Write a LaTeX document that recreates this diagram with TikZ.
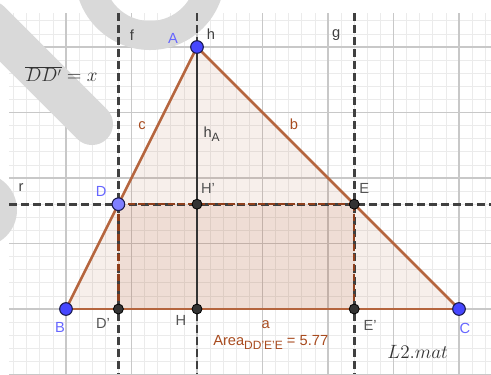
\documentclass[tikz,border=0pt]{standalone}
\usepackage{fontspec}
\setsansfont{Liberation Sans}
\usepackage{xcolor}
\usepackage{tikz}
\usetikzlibrary{positioning}
\definecolor{GridFine}{HTML}{EBEBEB}
\definecolor{GridMajor}{HTML}{C8C8C8}
\definecolor{WaterGray}{HTML}{D9D9D9}
\definecolor{AuxInk}{HTML}{404040}
\definecolor{GeoBrown}{HTML}{B5653E}
\definecolor{RectBrown}{HTML}{8E3F1C}
\definecolor{LabelBrown}{HTML}{A84B1F}
\definecolor{PtBlue}{HTML}{4646FF}
\definecolor{PtBlueLight}{HTML}{7F7FFF}
\definecolor{PtRim}{HTML}{1A1A4D}
\definecolor{PtDark}{HTML}{333333}
\definecolor{BlueText}{HTML}{6666FF}
\definecolor{GrayText}{HTML}{555555}
\tikzset{
  gridfine/.style={draw=GridFine,line width=0.5pt},
  gridmajor/.style={draw=GridMajor,line width=0.8pt},
  watermark/.style={fill=WaterGray},
  auxline/.style={draw=AuxInk,line width=2.2pt,dash pattern=on 6pt off 3pt},
  side/.style={draw=GeoBrown,line width=2pt},
  rectedge/.style={draw=RectBrown,line width=1.8pt,dash pattern=on 5pt off 2.5pt},
  altitude/.style={draw=PtDark,line width=1.1pt},
  freept/.style={circle,fill=PtBlue,draw=PtRim,line width=0.8pt,inner sep=0pt,minimum size=9.5pt},
  fixpt/.style={circle,fill=PtDark,draw=black,line width=0.6pt,inner sep=0pt,minimum size=7.5pt},
  lbl/.style={font=\sffamily\fontsize{11}{13}\selectfont,inner sep=0pt},
  bluelbl/.style={lbl,text=BlueText},
  graylbl/.style={lbl,text=GrayText},
  linelbl/.style={lbl,text=AuxInk},
  edgelbl/.style={lbl,text=LabelBrown}
}
\begin{document}
\begin{tikzpicture}[x=49.125pt,y=49.125pt]
  \useasboundingbox (-1.0076,-0.9924) rectangle (6.4885,4.7176);
  \begin{scope}
    \clip (-0.87,-0.9924) rectangle (6.4885,4.519);
    \draw[gridfine] (-1,-1) grid[step=0.2] (6.6,4.6);
    \draw[gridmajor] (-1,-1) grid[step=1] (6.6,4.6);
  \end{scope}
  \fill[watermark,even odd rule] (1.282,5.099) circle (1.145) (1.282,5.099) circle (0.702);
  \draw[draw=WaterGray,line width=31.5pt,line cap=round] (-1.16,4.382) -- (0.397,2.824);
  \fill[watermark] (-1.313,1.511) circle (0.565);
  \coordinate (B) at (0,0);
  \coordinate (C) at (6,0);
  \coordinate (A) at (2,4);
  \coordinate (D) at (0.8,1.6);
  \coordinate (E) at (4.4,1.6);
  \coordinate (Dp) at (0.8,0);
  \coordinate (Ep) at (4.4,0);
  \coordinate (H) at (2,0);
  \coordinate (Hp) at (2,1.6);
  \coordinate (f1) at (0.8,4.519);
  \coordinate (f2) at (0.8,-0.9924);
  \coordinate (h1) at (2,4.519);
  \coordinate (h2) at (2,-0.9924);
  \coordinate (g1) at (4.4,4.519);
  \coordinate (g2) at (4.4,-0.9924);
  \coordinate (r1) at (-0.87,1.6);
  \coordinate (r2) at (6.4885,1.6);
  \fill[GeoBrown,fill opacity=0.1] (A) -- (B) -- (C) -- cycle;
  \fill[GeoBrown,fill opacity=0.13] (D) -- (Dp) -- (Ep) -- (E) -- cycle;
  \draw[auxline] (f1) -- (f2);
  \draw[auxline] (h1) -- (h2);
  \draw[auxline] (g1) -- (g2);
  \draw[auxline] (r1) -- (r2);
  \draw[side] (B) -- node[edgelbl,pos=0.7,xshift=-11.8pt] (labc) {c} (A);
  \draw[side] (A) -- node[edgelbl,pos=0.3,xshift=13.8pt,yshift=1.2pt] (labb) {b} (C);
  \draw[side] (B) -- node[edgelbl,pos=0.508,yshift=-12pt] (laba) {a} (C);
  \draw[rectedge] (D) -- (Hp) -- (E);
  \draw[rectedge] (D) -- (Dp);
  \draw[rectedge] (E) -- (Ep);
  \draw[altitude] (A) -- node[linelbl,pos=0.3325,xshift=11pt] (labhA) {h\raisebox{-0.45ex}{\fontsize{9}{10}\selectfont A}} (H);
  \node[fixpt] (pDp) at (Dp) {};
  \node[fixpt] (pH) at (H) {};
  \node[fixpt] (pEp) at (Ep) {};
  \node[fixpt] (pHp) at (Hp) {};
  \node[fixpt] (pE) at (E) {};
  \node[freept] (pA) at (A) {};
  \node[freept] (pB) at (B) {};
  \node[freept] (pC) at (C) {};
  \node[freept,fill=PtBlueLight] (pD) at (D) {};
  \node[bluelbl] (labA) at ([shift={(-18pt,6.75pt)}]A) {A};
  \node[bluelbl] (labB) at ([shift={(-4.5pt,-13.5pt)}]B) {B};
  \node[bluelbl] (labC) at ([shift={(4.5pt,-14.25pt)}]C) {C};
  \node[bluelbl] (labD) at ([shift={(-13pt,9.75pt)}]D) {D};
  \node[graylbl] (labE) at ([shift={(7.5pt,12pt)}]E) {E};
  \node[graylbl] (labHp) at ([shift={(8.25pt,12pt)}]Hp) {H'};
  \node[graylbl] (labDp) at ([shift={(-11.5pt,-10.5pt)}]Dp) {D'};
  \node[graylbl] (labH) at ([shift={(-12pt,-8.25pt)}]H) {H};
  \node[graylbl] (labEp) at ([shift={(12pt,-12pt)}]Ep) {E'};
  \node[linelbl] (labf) at ([shift={(10.2pt,-16.5pt)}]f1) {f};
  \node[linelbl] (labh) at ([shift={(10.5pt,-15.75pt)}]h1) {h};
  \node[linelbl] (labg) at ([shift={(-13.5pt,-16.5pt)}]g1) {g};
  \node[linelbl] (labr) at ([shift={(9pt,12.75pt)}]r1) {r};
  \node[edgelbl,anchor=base west] (area) at ([shift={(12pt,-27pt)}]H)
    {Area\raisebox{-0.55ex}{\fontsize{9}{10}\selectfont DD'E'E} = 5.77};
  \node[anchor=base west,inner sep=0pt,text=PtDark,font=\fontsize{13.5}{15}\selectfont] (sign) at ([shift={(24.75pt,-36.75pt)}]Ep) {$L2.mat$};
  \node[anchor=base west,inner sep=0pt,text=PtDark,font=\fontsize{13.5}{15}\selectfont] (given) at (-0.626,3.466) {$\overline{DD'}=x$};
\end{tikzpicture}
\end{document}
